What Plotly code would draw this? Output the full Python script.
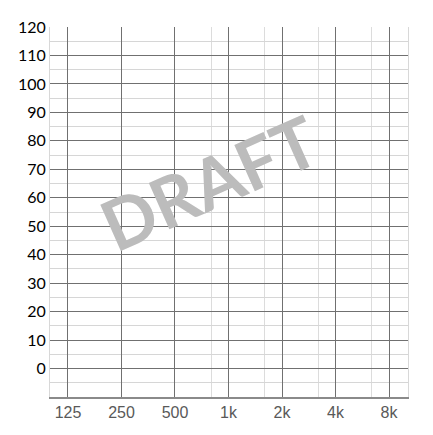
import plotly.graph_objects as go

# Data / labels
freqs = [125, 250, 500, 1000, 2000, 4000, 8000]
freq_labels = ["125", "250", "500", "1k", "2k", "4k", "8k"]
minor_freqs = [800, 1600, 3200, 6400]
db_ticks = [0, 10, 20, 30, 40, 50, 60, 70, 80, 90, 100, 110, 120]
db_labels = [str(v) for v in db_ticks]
watermark = "DRAFT"

fig = go.Figure()
fig.add_trace(go.Scatter(x=[], y=[], mode="markers", showlegend=False, hoverinfo="skip"))

# page has an 8px body margin, so the figure is shifted by 8px
fig.update_layout(
    width=425, height=427,
    margin=dict(l=42, r=25, t=19, b=38, autoexpand=False),
    paper_bgcolor="white", plot_bgcolor="white",
    showlegend=False,
)

fig.update_xaxes(
    type="log", range=[1.9957, 4.0100],
    tickvals=freqs, ticktext=freq_labels,
    tickfont=dict(family="Liberation Sans, Arial, sans-serif", size=16, color="#595959"),
    showgrid=True, gridcolor="#707070", gridwidth=1,
    minor=dict(tickvals=minor_freqs, showgrid=True, gridcolor="#dcdcdc", gridwidth=1),
    showline=True, linecolor="#8a8a8a", linewidth=1.5, mirror=False,
    ticks="", ticklen=0, zeroline=False, fixedrange=True,
)

fig.update_yaxes(
    range=[-10, 120],
    tickvals=db_ticks, ticktext=db_labels,
    tickfont=dict(family="Lato, Liberation Sans, sans-serif", size=16, color="#000000"),
    showgrid=True, gridcolor="#707070", gridwidth=1,
    minor=dict(dtick=5, tick0=-5, showgrid=True, gridcolor="#d6d6d6", gridwidth=1),
    showline=True, linecolor="#d8d8d8", linewidth=1, mirror=True,
    ticks="", zeroline=False, fixedrange=True,
)

fig.add_annotation(
    text=watermark, xref="paper", yref="paper", x=0.445, y=0.58,
    showarrow=False, textangle=-24,
    font=dict(family="Lato, Liberation Sans, sans-serif", size=70, color="#bcbcbc", weight=700),
)

fig.write_html("out.html")
